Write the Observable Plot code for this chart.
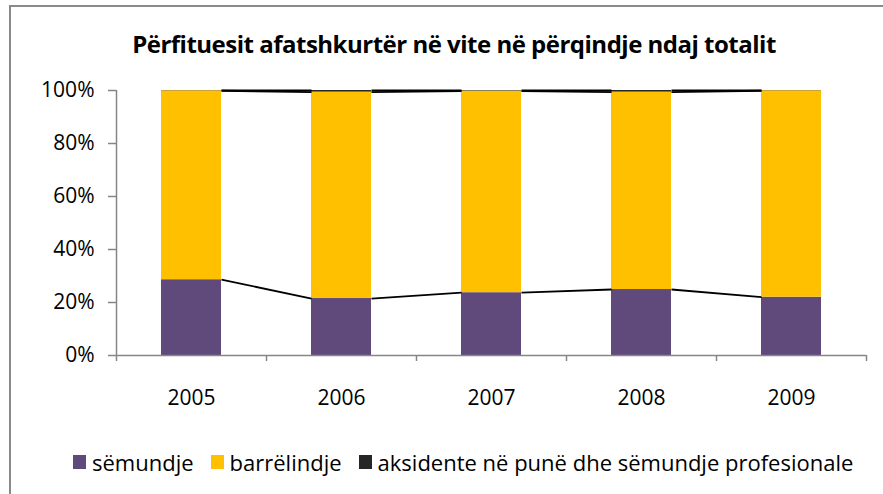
<!DOCTYPE html>
<html>
<head>
<meta charset="utf-8">
<script src="https://cdn.jsdelivr.net/npm/d3@7"></script>
<script src="https://cdn.jsdelivr.net/npm/@observablehq/plot@0.6"></script>
<style>
  html, body { margin: 0; padding: 0; background: #fff; }
  #wrap { position: relative; width: 883px; height: 494px; overflow: hidden; font-family: "Open Sans", sans-serif; }
  #frame { position: absolute; left: 9px; top: 5px; width: 890px; height: 500px; border: 2px solid #8a8a8a; box-sizing: border-box; }
  #title { position: absolute; left: 100px; top: 29px; width: 708px; text-align: center; font-weight: 700; font-size: 24px; line-height: 30px; white-space: nowrap; color: #000; letter-spacing: -0.5px; }
  #legend { position: absolute; left: 73px; top: 447px; display: flex; align-items: center; font-size: 22px; line-height: 30px; white-space: nowrap; color: #000; }
  #legend .sw { display: inline-block; width: 13px; height: 14px; margin-right: 6px; }
  #legend .item { display: flex; align-items: center; margin-right: 17px; }
  #chart { position: absolute; left: 0; top: 0; }
</style>
</head>
<body>
<div id="wrap">
  <div id="frame"></div>
  <div id="chart"></div>
  <div id="title">Përfituesit afatshkurtër në vite në përqindje ndaj totalit</div>
  <div id="legend"></div>
</div>
<script>
const years = [2005, 2006, 2007, 2008, 2009];
const seriesNames = ["sëmundje", "barrëlindje", "aksidente në punë dhe sëmundje profesionale"];
const seriesColors = ["#604A7B", "#FFC000", "#262626"];
const semundje = [28.6, 21.5, 23.7, 24.9, 22.0];
const barrelindje = [71.3, 77.9, 76.1, 74.5, 77.9];
const aksidente = [0.1, 0.6, 0.2, 0.6, 0.1];
const yTicks = [0, 20, 40, 60, 80, 100];
const yTickLabels = ["0%", "20%", "40%", "60%", "80%", "100%"];

const seriesValues = [semundje, barrelindje, aksidente];
const halfBar = 0.2;

// stacked table
const rows = [];
const tops = seriesNames.map(() => []);
years.forEach((yr, i) => {
  let cum = 0;
  seriesNames.forEach((s, k) => {
    const v = seriesValues[k][i];
    rows.push({year: yr, series: s, y1: cum, y2: cum + v});
    cum += v;
    tops[k].push(cum);
  });
});

// series lines between bars
const links = [];
seriesNames.forEach((s, k) => {
  for (let i = 0; i < years.length - 1; i++) {
    links.push({x1: years[i] + halfBar, y1: tops[k][i], x2: years[i + 1] - halfBar, y2: tops[k][i + 1]});
  }
});

const boundaries = [years[0] - 0.5, ...years.map(y => y + 0.5)];
const gray = "#868686";

const chart = Plot.plot({
  width: 883,
  height: 494,
  marginLeft: 116,
  marginRight: 17,
  marginTop: 90,
  marginBottom: 139,
  style: {fontFamily: "Open Sans, sans-serif", fontSize: "21px", color: "#000", background: "transparent", overflow: "visible"},
  x: {domain: [years[0] - 0.5, years[years.length - 1] + 0.5], axis: null},
  y: {domain: [0, 100], axis: null},
  color: {domain: seriesNames, range: seriesColors},
  marks: [
    Plot.rect(rows, {x1: d => d.year - halfBar, x2: d => d.year + halfBar, y1: "y1", y2: "y2", fill: "series"}),
    Plot.link(links, {x1: "x1", y1: "y1", x2: "x2", y2: "y2", stroke: "#000", strokeWidth: 1.8}),
    Plot.ruleX([boundaries[0]], {stroke: gray, strokeWidth: 1.5}),
    Plot.ruleY([0], {stroke: gray, strokeWidth: 1.5}),
    Plot.axisY({ticks: yTicks, tickFormat: (d) => yTickLabels[yTicks.indexOf(d)], tickSize: 8, tickPadding: 14, stroke: gray, strokeWidth: 1.5, fontSize: 21, fill: "#000"}),
    Plot.axisX({ticks: boundaries, tickFormat: () => "", tickSize: 6, stroke: gray, strokeWidth: 1.5}),
    Plot.axisX({ticks: years, tickFormat: d => String(d), tickSize: 0, tickPadding: 35, fontSize: 21, fill: "#000"})
  ]
});
document.getElementById("chart").appendChild(chart);

const legend = document.getElementById("legend");
seriesNames.forEach((s, k) => {
  const item = document.createElement("div");
  item.className = "item";
  const sw = document.createElement("span");
  sw.className = "sw";
  sw.style.background = seriesColors[k];
  const t = document.createElement("span");
  t.textContent = s;
  item.appendChild(sw);
  item.appendChild(t);
  legend.appendChild(item);
});
</script>
</body>
</html>
